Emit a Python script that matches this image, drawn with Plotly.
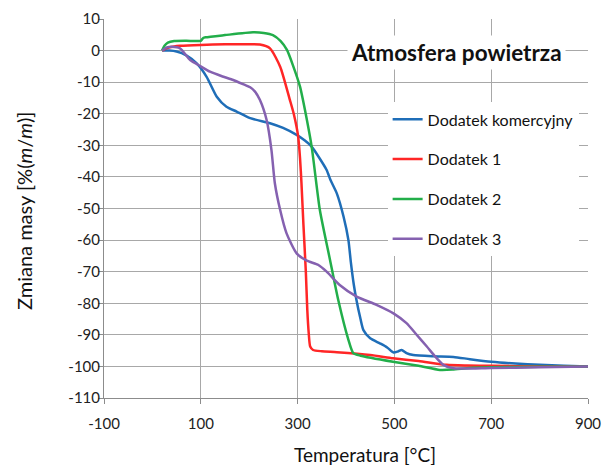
import plotly.graph_objects as go

# ---- data ----
series_names = ["Dodatek komercyjny", "Dodatek 1", "Dodatek 2", "Dodatek 3"]

x_kom = [20, 35, 50, 70, 91, 112, 133, 153, 174, 202, 243, 270, 298, 315, 329, 345, 360, 368, 381, 395,
         405, 410, 416, 421, 430, 436, 450, 470, 485, 498, 507, 515, 525, 539, 580, 622, 656, 700, 750,
         800, 850, 900]
y_kom = [0, 0, -0.3, -1.5, -4.0, -8.3, -14.6, -17.8, -19.3, -21.4, -23.0, -24.5, -26.7, -28.5, -30.4,
         -34.0, -37.8, -41.0, -45.2, -52.6, -60.0, -67.0, -74.0, -78.5, -85.0, -88.5, -91.1, -92.7, -94.0,
         -95.6, -95.3, -94.8, -95.8, -96.4, -96.8, -97.0, -97.7, -98.5, -99.1, -99.5, -99.8, -100.0]

x_d1 = [20, 30, 45, 57, 100, 150, 200, 222, 243, 264, 284, 292, 301, 305, 308, 312, 317, 320, 323, 326,
        332, 350, 381, 450, 497, 550, 608, 650, 700, 800, 900]
y_d1 = [0, 0.8, 1.3, 1.5, 1.8, 2.0, 2.0, 1.9, 0.7, -5.1, -15.6, -20.0, -27.0, -34.0, -42.0, -55.0,
        -70.0, -82.0, -89.5, -93.7, -94.8, -95.2, -95.5, -96.4, -97.4, -98.3, -99.5, -99.7, -99.8,
        -100.0, -100.0]

x_d2 = [20, 25, 32, 45, 70, 100, 105, 110, 150, 208, 230, 249, 265, 278, 290, 305, 311, 329, 346, 367,
        384, 405, 415, 430, 497, 550, 594, 620, 656, 700, 800, 900]
y_d2 = [0, 1.5, 2.5, 3.0, 3.1, 3.1, 4.0, 4.2, 4.9, 5.8, 5.6, 4.9, 3.0, 0.2, -4.5, -11.4, -15.6, -30.4,
        -50.5, -66.3, -79.0, -91.6, -95.8, -96.6, -98.5, -99.8, -101.1, -101.0, -100.5, -100.3,
        -100.1, -100.0]

x_d3 = [20, 30, 40, 57, 78, 100, 119, 145, 167, 190, 202, 212, 222, 236, 246, 253, 264, 277, 298, 319,
        343, 360, 387, 422, 463, 498, 525, 545, 567, 585, 601, 622, 700, 800, 900]
y_d3 = [0, 1.0, 1.2, 0.7, -3.0, -5.0, -6.7, -8.2, -9.3, -10.8, -11.6, -13.0, -15.6, -22.0, -31.5,
        -42.0, -50.5, -57.8, -64.2, -66.5, -67.9, -70.0, -74.2, -77.9, -80.5, -83.2, -86.3, -89.8,
        -93.7, -97.0, -99.5, -100.6, -100.5, -100.3, -100.0]

x_ticks = [-100, 100, 300, 500, 700, 900]
y_ticks = [10, 0, -10, -20, -30, -40, -50, -60, -70, -80, -90, -100, -110]

colors = ["#1F6EB8", "#FF2626", "#22AE4A", "#8561B0"]
FONT = "Lato, 'Open Sans', sans-serif"

fig = go.Figure()
for name, xs, ys, c in zip(series_names, [x_kom, x_d1, x_d2, x_d3], [y_kom, y_d1, y_d2, y_d3], colors):
    fig.add_trace(go.Scatter(x=xs, y=ys, mode="lines", name=name, legendgroup=name,
                             line=dict(color=c, width=2.5, shape="spline", smoothing=0.6)))

fig.update_layout(
    width=603, height=465,
    margin=dict(l=104, r=15, t=19, b=67),
    paper_bgcolor="white", plot_bgcolor="white",
    font=dict(family=FONT, size=15, color="#222222"),
    showlegend=True,
    legend=dict(x=0.586, y=0.780, xanchor="left", yanchor="top",
                bgcolor="white", borderwidth=0, tracegroupgap=16,
                font=dict(family=FONT, size=16, color="#111111")),
    xaxis=dict(range=[-100, 900], tickvals=x_ticks, ticktext=[str(v) for v in x_ticks],
               showgrid=True, gridcolor="#A8A8A8", gridwidth=1, automargin=False,
               showline=True, linecolor="#8C8C8C", linewidth=1, mirror=False,
               ticks="outside", ticklen=5, tickcolor="#8C8C8C", zeroline=False,
               ticklabelstandoff=7,
               tickfont=dict(size=15, color="#222222")),
    yaxis=dict(range=[-110, 10], tickvals=y_ticks, ticktext=[str(v) for v in y_ticks],
               showgrid=True, gridcolor="#A8A8A8", gridwidth=1, automargin=False,
               showline=True, linecolor="#8C8C8C", linewidth=1,
               ticks="outside", ticklen=5, tickcolor="#8C8C8C", zeroline=False,
               ticklabelstandoff=-5,
               tickfont=dict(size=15, color="#222222")),
)

# chart title inside the plot
fig.add_annotation(text="<b>Atmosfera powietrza</b>", xref="paper", yref="paper",
                   x=0.729, y=0.912, xanchor="center", yanchor="middle", showarrow=False,
                   bgcolor="white", borderpad=3,
                   font=dict(family=FONT, size=22.5, color="#111111"))
# axis titles
fig.add_annotation(text="Temperatura [°C]", xref="paper", yref="paper",
                   x=(365 - 104) / 484, y=-(454 - 398) / 379, xanchor="center", yanchor="middle",
                   showarrow=False, font=dict(family=FONT, size=19, color="#111111"))
fig.add_annotation(text="Zmiana masy [%(<i>m</i>/<i>m</i>)]", xref="paper", yref="paper",
                   x=-(104 - 24) / 484, y=(398 - 211) / 379, xanchor="center", yanchor="middle",
                   textangle=-90, showarrow=False, font=dict(family=FONT, size=20, color="#111111"))

fig.write_html("out.html", config={"displayModeBar": False},
               post_script="document.body.style.margin='0px';")
